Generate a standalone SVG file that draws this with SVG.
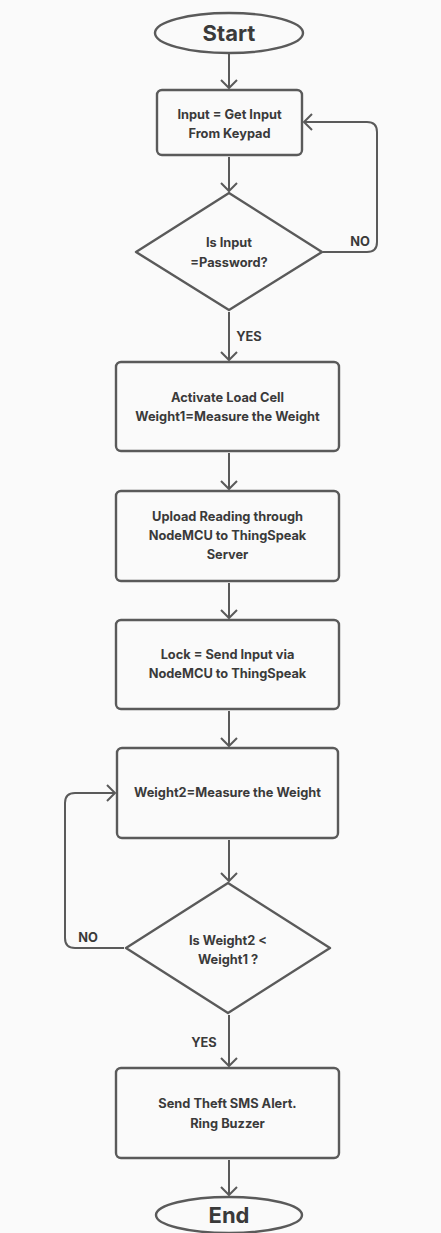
<svg xmlns="http://www.w3.org/2000/svg" width="441" height="1233" viewBox="0 0 441 1233">
<style>
.n{fill:#fafafa;stroke:#5a5a5a;stroke-width:2.4}
.t{font-family:Inter,"Liberation Sans",sans-serif;font-weight:700;font-size:12.8px;fill:#3a3a3a;text-anchor:middle}
.big{font-size:22px}
.c{fill:none;stroke:#5a5a5a;stroke-width:2}
</style>
<defs>
<marker id="a" viewBox="-10 -10 20 20" refX="0" refY="0" markerWidth="20" markerHeight="20" markerUnits="userSpaceOnUse" orient="auto">
<path d="M-8,-8 L0,0 L-8,8" fill="none" stroke="#5a5a5a" stroke-width="2"/>
</marker>
</defs>
<rect width="441" height="1233" fill="#fafafa"/>
<g id="connectors">
<path class="c" d="M229,54 V88" marker-end="url(#a)"/>
<path class="c" d="M229,157 V191" marker-end="url(#a)"/>
<path class="c" d="M229,312 V360" marker-end="url(#a)"/>
<path class="c" d="M229,453 V489" marker-end="url(#a)"/>
<path class="c" d="M229,583 V618" marker-end="url(#a)"/>
<path class="c" d="M229,711 V746" marker-end="url(#a)"/>
<path class="c" d="M229,840 V881" marker-end="url(#a)"/>
<path class="c" d="M229,1015 V1066" marker-end="url(#a)"/>
<path class="c" d="M229,1160 V1195" marker-end="url(#a)"/>
<path class="c" d="M323,252 H367 Q377,252 377,242 V132 Q377,122 367,122 H304" marker-end="url(#a)"/>
<path class="c" d="M124,948 H75 Q65,948 65,938 V803 Q65,793 75,793 H115" marker-end="url(#a)"/>
<text class="t" x="360" y="246">NO</text>
<text class="t" x="249" y="341">YES</text>
<text class="t" x="88" y="942">NO</text>
<text class="t" x="204" y="1047">YES</text>
</g>
<g id="start">
<ellipse class="n" cx="229" cy="33" rx="74" ry="20"/>
<text class="t big" x="229" y="41">Start</text>
</g>
<g id="input">
<rect class="n" x="157" y="90" width="145" height="65" rx="5"/>
<text class="t" x="229.5" y="119">Input = Get Input</text>
<text class="t" x="229.5" y="138">From Keypad</text>
</g>
<g id="check-password">
<polygon class="n" points="229,193 322,252 229,310 136,252" stroke-linejoin="round"/>
<text class="t" x="229" y="247">Is Input</text>
<text class="t" x="229" y="267">=Password?</text>
</g>
<g id="activate">
<rect class="n" x="116" y="362" width="223" height="89" rx="5"/>
<text class="t" x="227.5" y="402">Activate Load Cell</text>
<text class="t" x="227.5" y="421">Weight1=Measure the Weight</text>
</g>
<g id="upload">
<rect class="n" x="116" y="491" width="223" height="90" rx="5"/>
<text class="t" x="227.5" y="521">Upload Reading through</text>
<text class="t" x="227.5" y="540">NodeMCU to ThingSpeak</text>
<text class="t" x="227.5" y="559">Server</text>
</g>
<g id="lock">
<rect class="n" x="116" y="620" width="223" height="89" rx="5"/>
<text class="t" x="227.5" y="659">Lock = Send Input via</text>
<text class="t" x="227.5" y="678">NodeMCU to ThingSpeak</text>
</g>
<g id="weight2">
<rect class="n" x="117" y="748" width="221" height="90" rx="5"/>
<text class="t" x="227.5" y="797">Weight2=Measure the Weight</text>
</g>
<g id="check-weight">
<polygon class="n" points="228,883 330,948 228,1013 126,948" stroke-linejoin="round"/>
<text class="t" x="228" y="945">Is Weight2 &lt;</text>
<text class="t" x="228" y="964">Weight1 ?</text>
</g>
<g id="alert">
<rect class="n" x="116" y="1068" width="223" height="90" rx="5"/>
<text class="t" x="227.5" y="1108">Send Theft SMS Alert.</text>
<text class="t" x="227.5" y="1128">Ring Buzzer</text>
</g>
<g id="end">
<ellipse class="n" cx="229" cy="1215" rx="73" ry="18"/>
<text class="t big" x="229" y="1223">End</text>
</g>
</svg>
